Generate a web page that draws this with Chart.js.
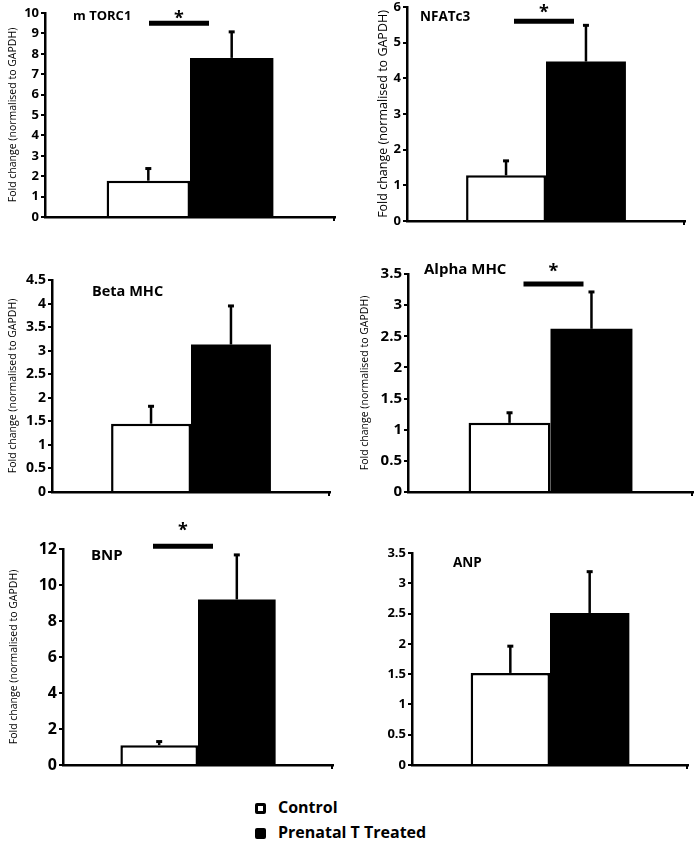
<!DOCTYPE html>
<html>
<head>
<meta charset="utf-8">
<script src="https://cdn.jsdelivr.net/npm/chart.js@4/dist/chart.umd.min.js"></script>
<style>
  body { margin: 0; background: #fff; width: 697px; height: 851px; position: relative; overflow: hidden; font-family: 'Open Sans', sans-serif; }
  canvas { position: absolute; }
  .key { position: absolute; left: 255px; font-weight: bold; font-size: 16px; color: #000; line-height: 20px; }
  .key span { display: inline-block; width: 11px; height: 11px; border-radius: 2px; box-sizing: border-box; vertical-align: -1px; margin-right: 12px; }
</style>
</head>
<body>
<div class="key" style="top:797px"><span style="border:3px solid #000;background:#fff"></span>Control</div>
<div class="key" style="top:822px"><span style="background:#000"></span>Prenatal T Treated</div>

<script>
// values
const genes = ['m TORC1', 'NFATc3', 'Beta MHC', 'Alpha MHC', 'BNP', 'ANP'];
const groupNames = ['Control', 'Prenatal T Treated'];
const controlMean = [1.78, 1.28, 1.45, 1.11, 1.1, 1.52];
const controlErr = [0.62, 0.42, 0.38, 0.17, 0.23, 0.45];
const treatedMean = [7.8, 4.47, 3.13, 2.62, 9.2, 2.51];
const treatedErr = [1.3, 1.03, 0.83, 0.6, 2.5, 0.69];
const axisMax = [10, 6, 4.5, 3.5, 12, 3.5];
const axisStep = [1, 1, 0.5, 0.5, 2, 0.5];
// height of the significance bar (null = no star)
const sigLevel = [9.5, 5.6, null, 3.34, 12.15, null];

const yTitle = 'Fold change (normalised to GAPDH)';

// page layout of each panel: canvas box and plot area
const panels = [
  { box: [0, 0, 348, 230], plot: [45, 13, 335, 217], tick: 13, lab: 10.5, labX: 13, head: 13, headX: 28, headY: 3, sigX: -11, star: 9 },
  { box: [350, 0, 697, 230], plot: [407, 7, 685, 221], tick: 13, lab: 12.5, labX: 33, head: 13.5, headX: 13, headY: 10, sigX: -2, star: 13 },
  { box: [0, 250, 348, 500], plot: [52, 280, 330, 492], tick: 14, lab: 10.5, labX: 13, head: 14.5, headX: 40, headY: 12, sigX: 0, star: 0 },
  { box: [350, 250, 697, 500], plot: [408, 274, 693, 492], tick: 15, lab: 10.5, labX: 15, head: 15, headX: 16, headY: -4, sigX: 3, star: 17 },
  { box: [0, 505, 348, 775], plot: [63, 549, 333, 765], tick: 16, lab: 10.5, labX: 14, head: 15, headX: 28, headY: 7, sigX: -15, star: 20 },
  { box: [350, 505, 697, 775], plot: [412, 553, 688, 765], tick: 13, lab: 0, labX: 0, head: 13.5, headX: 41, headY: 10, sigX: 0, star: 0 }
];

function makeExtras(i, p) {
  return {
    id: 'extras' + i,
    afterDatasetsDraw(chart) {
      const ctx = chart.ctx;
      const area = chart.chartArea;
      const y = chart.scales.y;
      const means = [controlMean[i], treatedMean[i]];
      const errs = [controlErr[i], treatedErr[i]];
      const bars = [chart.getDatasetMeta(0).data[0], chart.getDatasetMeta(1).data[0]];
      ctx.save();
      ctx.strokeStyle = '#000';
      ctx.fillStyle = '#000';
      // upper error bars
      bars.forEach((bar, k) => {
        const top = y.getPixelForValue(means[k]);
        const end = y.getPixelForValue(means[k] + errs[k]);
        ctx.lineWidth = 2.5;
        ctx.beginPath();
        ctx.moveTo(bar.x, top);
        ctx.lineTo(bar.x, end);
        ctx.stroke();
        ctx.lineWidth = 3;
        ctx.beginPath();
        ctx.moveTo(bar.x - 3, end + 0.5);
        ctx.lineTo(bar.x + 3, end + 0.5);
        ctx.stroke();
      });
      // small tick at the right end of the x axis
      ctx.lineWidth = 2;
      ctx.beginPath();
      ctx.moveTo(area.right - 1, area.bottom);
      ctx.lineTo(area.right - 1, area.bottom + 4);
      ctx.stroke();
      // gene name
      ctx.font = 'bold ' + p.head + 'px "Open Sans"';
      ctx.textBaseline = 'middle';
      ctx.textAlign = 'left';
      ctx.fillText(genes[i], area.left + p.headX, area.top + p.headY);
      // significance
      if (sigLevel[i] !== null) {
        const sy = y.getPixelForValue(sigLevel[i]);
        const cx = (bars[0].x + bars[1].x) / 2 + p.sigX;
        ctx.lineWidth = 5;
        ctx.beginPath();
        ctx.moveTo(cx - 30, sy);
        ctx.lineTo(cx + 30, sy);
        ctx.stroke();
        ctx.font = 'bold 18px "Open Sans"';
        ctx.textAlign = 'center';
        ctx.textBaseline = 'alphabetic';
        ctx.fillText('*', cx, sy - p.star + 10);
      }
      ctx.restore();
    }
  };
}

panels.forEach((p, i) => {
  const [bx0, by0, bx1, by1] = p.box;
  const [px0, py0, px1, py1] = p.plot;
  const canvas = document.createElement('canvas');
  canvas.width = bx1 - bx0;
  canvas.height = by1 - by0;
  canvas.style.left = bx0 + 'px';
  canvas.style.top = by0 + 'px';
  document.body.appendChild(canvas);

  new Chart(canvas, {
    type: 'bar',
    data: {
      labels: [genes[i]],
      datasets: [
        { label: groupNames[0], data: [controlMean[i]], backgroundColor: '#fff', borderColor: '#000', borderWidth: 2.5 },
        { label: groupNames[1], data: [treatedMean[i]], backgroundColor: '#000', borderColor: '#000', borderWidth: 0 }
      ]
    },
    options: {
      responsive: false,
      animation: false,
      categoryPercentage: 0.575,
      barPercentage: 1,
      layout: { padding: { left: 0, top: py0 - by0, right: bx1 - px1, bottom: by1 - py1 } },
      plugins: { legend: { display: false }, tooltip: { enabled: false } },
      scales: {
        x: {
          grid: { display: false },
          border: { display: true, color: '#000', width: 2.5 },
          ticks: { display: false },
          afterFit: s => { s.height = 0; s.paddingLeft = 0; s.paddingRight = 0; }
        },
        y: {
          min: 0,
          max: axisMax[i],
          ticks: {
            stepSize: axisStep[i],
            color: '#000',
            padding: 2,
            font: { family: 'Open Sans', weight: 'bold', size: p.tick },
            callback: v => String(Math.round(v * 10) / 10)
          },
          grid: { display: true, drawOnChartArea: false, drawTicks: true, tickLength: 4, color: '#000', lineWidth: 2 },
          border: { display: true, color: '#000', width: 2.5 },
          title: {
            display: p.lab > 0,
            text: yTitle,
            color: '#000',
            font: { family: 'Open Sans', size: p.lab || 10 },
            padding: { top: Math.max(p.labX - (p.lab * 1.2) / 2, 0), bottom: 0 }
          },
          afterFit: s => { s.width = px0 - bx0; s.paddingTop = 0; s.paddingBottom = 0; }
        }
      }
    },
    plugins: [makeExtras(i, p)]
  });
});
</script>
</body>
</html>
